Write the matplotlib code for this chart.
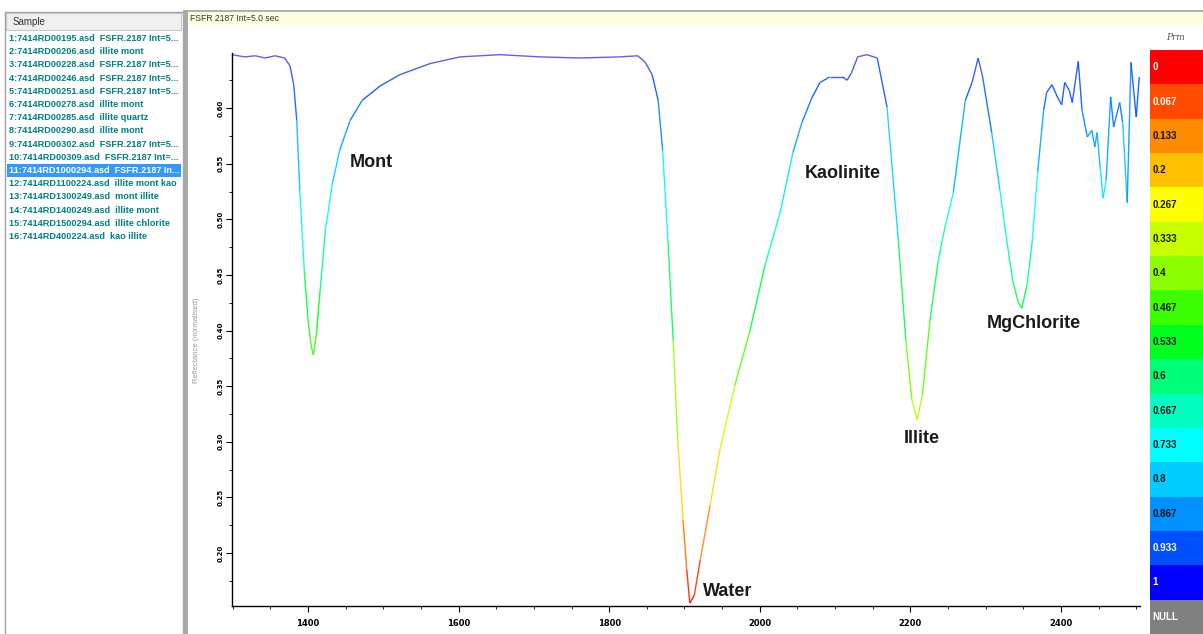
import matplotlib
matplotlib.use("Agg")
import matplotlib.pyplot as plt
import numpy as np
from matplotlib.collections import LineCollection
from matplotlib.colors import LinearSegmentedColormap
from matplotlib.patches import Rectangle

# spectrum (wavelength nm, reflectance)
wavelength = [1299, 1316, 1330, 1343, 1356, 1369, 1376, 1381, 1385, 1389, 1395, 1400,
              1404, 1407, 1411, 1416, 1423, 1432, 1442, 1456, 1472, 1496, 1522, 1562,
              1602, 1655, 1708, 1761, 1814, 1838, 1848, 1857, 1865, 1871, 1878, 1885,
              1891, 1898, 1903, 1907, 1913, 1921, 1934, 1947, 1967, 1987, 2007, 2027,
              2044, 2056, 2069, 2080, 2093, 2110, 2116, 2122, 2130, 2142, 2156, 2169,
              2184, 2194, 2202, 2209, 2216, 2226, 2237, 2246, 2257, 2273, 2282, 2290,
              2296, 2308, 2319, 2328, 2336, 2343, 2348, 2355, 2362, 2369, 2377, 2381,
              2388, 2396, 2401, 2405, 2411, 2415, 2423, 2428, 2435, 2441, 2445, 2448,
              2452, 2456, 2460, 2466, 2470, 2478, 2482, 2488, 2493, 2500, 2504]
reflectance = [0.648, 0.646, 0.647, 0.645, 0.647, 0.645, 0.638, 0.621, 0.589, 0.526, 0.454, 0.409,
               0.387, 0.378, 0.396, 0.436, 0.490, 0.531, 0.562, 0.589, 0.607, 0.620, 0.630, 0.640,
               0.646, 0.648, 0.646, 0.645, 0.646, 0.647, 0.641, 0.630, 0.607, 0.562, 0.481, 0.391,
               0.302, 0.230, 0.185, 0.155, 0.162, 0.194, 0.243, 0.293, 0.351, 0.400, 0.459, 0.506,
               0.560, 0.587, 0.609, 0.623, 0.628, 0.628, 0.625, 0.632, 0.646, 0.648, 0.645, 0.601,
               0.481, 0.391, 0.338, 0.320, 0.342, 0.409, 0.463, 0.493, 0.524, 0.607, 0.623, 0.645,
               0.628, 0.578, 0.526, 0.481, 0.445, 0.426, 0.420, 0.441, 0.481, 0.542, 0.598, 0.614,
               0.621, 0.609, 0.603, 0.623, 0.616, 0.605, 0.642, 0.598, 0.574, 0.580, 0.565, 0.578,
               0.547, 0.519, 0.535, 0.610, 0.583, 0.605, 0.587, 0.515, 0.641, 0.592, 0.628]

features = ["Mont", "Water", "Kaolinite", "Illite", "MgChlorite"]
feat_x = [1456, 1925, 2060, 2191, 2302]
feat_y = [0.551, 0.165, 0.541, 0.303, 0.406]

bar_labels = ["0", "0.067", "0.133", "0.2", "0.267", "0.333", "0.4", "0.467", "0.533",
              "0.6", "0.667", "0.733", "0.8", "0.867", "0.933", "1", "NULL"]
bar_colors = ["#ff0000", "#ff4a00", "#ff8c00", "#ffc000", "#ffff00", "#c8ff00", "#8cff00",
              "#3cff00", "#00ff1e", "#00ff78", "#00ffc0", "#00ffff", "#00ccff", "#0090ff",
              "#0050ff", "#0000ff", "#808080"]

samples = ["1:7414RD00195.asd  FSFR.2187 Int=5...", "2:7414RD00206.asd  illite mont",
           "3:7414RD00228.asd  FSFR.2187 Int=5...", "4:7414RD00246.asd  FSFR.2187 Int=5...",
           "5:7414RD00251.asd  FSFR.2187 Int=5...", "6:7414RD00278.asd  illite mont",
           "7:7414RD00285.asd  illite quartz", "8:7414RD00290.asd  illite mont",
           "9:7414RD00302.asd  FSFR.2187 Int=5...", "10:7414RD00309.asd  FSFR.2187 Int=...",
           "11:7414RD1000294.asd  FSFR.2187 In...", "12:7414RD1100224.asd  illite mont kao",
           "13:7414RD1300249.asd  mont illite", "14:7414RD1400249.asd  illite mont",
           "15:7414RD1500294.asd  illite chlorite", "16:7414RD400224.asd  kao illite"]
selected = 10

W, H = 1203, 634
fig = plt.figure(figsize=(W / 100, H / 100), dpi=100)
fig.patch.set_facecolor("white")

# window chrome (pixel coordinates)
bg = fig.add_axes([0, 0, 1, 1])
bg.set_xlim(0, W)
bg.set_ylim(H, 0)
bg.axis("off")
bg.add_patch(Rectangle((5, 12), 178, 630, fc="white", ec="#a0a0a0", lw=1))
bg.add_patch(Rectangle((6, 13), 175, 17, fc="#f0f0f0", ec="#c8c8c8", lw=0.8))
bg.text(13, 22, "Sample", fontsize=7, color="#333333", va="center", family="Liberation Sans")
for i, s in enumerate(samples):
    yy = 38.5 + i * 13.2
    col = "#008080"
    if i == selected:
        bg.add_patch(Rectangle((7, yy - 6.5), 174, 13, fc="#3399ff", ec="none"))
        col = "white"
    bg.text(9, yy, s, fontsize=6.6, color=col, va="center", fontweight="bold",
            family="Liberation Sans")
bg.add_patch(Rectangle((183, 10), 5, 630, fc="#a8a8a8", ec="none"))
bg.add_patch(Rectangle((188, 10), W - 188, 2, fc="#b0b0b0", ec="none"))
bg.add_patch(Rectangle((188, 12), W - 188, 13, fc="#ffffe0", ec="none"))
bg.text(190, 18.5, "FSFR 2187 Int=5.0 sec", fontsize=6.2, color="#333333", va="center",
        family="Liberation Sans")
bg.text(197, 340, "Reflectance (normalised)", fontsize=5.5, color="#9a9a9a", rotation=90,
        va="center", ha="center", family="Liberation Sans")
bg.text(1176, 38, "Prm", fontsize=6.5, color="#555555", style="italic", va="center",
        ha="center", family="DejaVu Serif")

# main spectrum plot
ax = fig.add_axes([232 / W, 1 - 606 / H, (1140 - 232) / W, (606 - 53) / H])
ax.set_facecolor("none")
x = np.array(wavelength)
y = np.array(reflectance)
line_colors = bar_colors[:-2] + ["#5a4ae0"]
cmap = LinearSegmentedColormap.from_list("prm", line_colors)
norm_y = (y - y.min()) / (y.max() - y.min())
pts = np.column_stack([x, y]).reshape(-1, 1, 2)
segs = np.concatenate([pts[:-1], pts[1:]], axis=1)
lc = LineCollection(segs, cmap=cmap, linewidth=1.0, clip_on=False, alpha=0.9)
lc.set_array((norm_y[:-1] + norm_y[1:]) / 2)
lc.set_clim(0, 1)
ax.add_collection(lc)
ax.set_xlim(1299, 2505)
ax.set_ylim(0.1524, 0.6495)

for sp in ["top", "right"]:
    ax.spines[sp].set_visible(False)
ax.spines["left"].set_linewidth(1)
ax.spines["bottom"].set_linewidth(1)
ax.set_xticks(np.arange(1400, 2500, 200))
ax.set_xticks(np.arange(1300, 2501, 50), minor=True)
ax.set_yticks(np.arange(0.20, 0.601, 0.05))
ax.set_yticks(np.arange(0.175, 0.65, 0.025), minor=True)
ax.tick_params(axis="x", labelsize=6, length=4, pad=5)
ax.tick_params(axis="y", labelsize=5, length=4, pad=2)
ax.tick_params(which="minor", length=2)
ax.set_yticklabels(["%.2f" % t for t in ax.get_yticks()], rotation=90, va="center")
for lbl in ax.get_xticklabels() + ax.get_yticklabels():
    lbl.set_fontweight("bold")

for name, fx, fy in zip(features, feat_x, feat_y):
    ax.text(fx, fy, name, fontsize=13, fontweight="bold", color="#1a1a1a",
            family="Liberation Sans", va="center", ha="left")

# colour legend
cb = fig.add_axes([1150 / W, 0, (W - 1150) / W, (634 - 50) / H])
cb.set_xlim(0, 1)
cb.set_ylim(len(bar_labels), 0)
cb.axis("off")
white_txt = {"0", "0.067", "0.933", "1", "NULL"}
for i, (lab, c) in enumerate(zip(bar_labels, bar_colors)):
    cb.barh(i + 0.5, 1, height=1, left=0, color=c, edgecolor="none")
    cb.text(0.05, i + 0.5, lab, fontsize=7, fontweight="bold",
            color="white" if lab in white_txt else "#111111", va="center",
            family="Liberation Sans")

fig.savefig("out.png", dpi=100)
